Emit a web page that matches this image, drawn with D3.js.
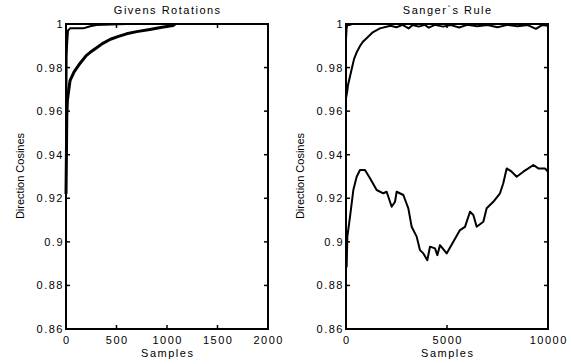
<!DOCTYPE html>
<html>
<head>
<meta charset="utf-8">
<script src="https://cdn.jsdelivr.net/npm/d3@7"></script>
<style>
  body { margin: 0; background: #fff; }
  svg text { font-family: "Liberation Sans", Arial, sans-serif; fill: #000; }
</style>
</head>
<body>
<svg id="chart" width="571" height="364"></svg>
<script>
var width = 571
var height = 364

// y axis is shared by both panels
var yTicks = [0.86, 0.88, 0.9, 0.92, 0.94, 0.96, 0.98, 1]

// Givens Rotations panel
var givensXTicks = [0, 500, 1000, 1500, 2000]
var givensFast = [
  [0, 0.922], [6, 0.985], [10, 0.99], [20, 0.997], [40, 0.998], [100, 0.998],
  [170, 0.998], [240, 0.999], [300, 0.9995], [450, 0.9998], [600, 1], [1000, 1]
]
var givensSlow = [
  [0, 0.922], [8, 0.958], [14, 0.965], [25, 0.969], [40, 0.974], [80, 0.978],
  [140, 0.982], [200, 0.9855], [240, 0.987], [300, 0.989], [360, 0.991],
  [440, 0.993], [520, 0.9943], [600, 0.9955], [700, 0.9965], [830, 0.9975],
  [950, 0.9985], [1060, 0.9993], [1080, 1]
]

// Sanger's Rule panel
var sangerXTicks = [0, 5000, 10000]
var sangerTop = [
  [0, 0.993], [30, 0.998], [80, 1], [150, 0.9995], [300, 1]
]
var sangerFirst = [
  [0, 0.966], [60, 0.969], [100, 0.972], [200, 0.976], [300, 0.98], [400, 0.984],
  [530, 0.987], [700, 0.99], [850, 0.992], [1020, 0.9935], [1300, 0.996],
  [1680, 0.998], [2200, 0.9992], [2500, 0.9985], [2800, 0.9996], [3100, 0.998],
  [3300, 0.9995], [3600, 0.9988], [3900, 0.9996], [4100, 0.9983], [4400, 0.9996],
  [4800, 0.9988], [5200, 0.9995], [5600, 0.9984], [6000, 0.9996], [6500, 0.999],
  [7000, 0.9995], [7500, 0.9985], [8000, 0.9996], [8500, 0.999], [9000, 0.9995],
  [9400, 0.9978], [9700, 0.9995], [10000, 0.9992]
]
var sangerSecond = [
  [0, 0.8886], [33, 0.8886], [66, 0.9024], [198, 0.9115], [363, 0.9238],
  [528, 0.9299], [693, 0.933], [940, 0.933], [1188, 0.9292], [1518, 0.9238],
  [1848, 0.9223], [2013, 0.923], [2261, 0.9161], [2426, 0.9184], [2508, 0.923],
  [2838, 0.9215], [3086, 0.9154], [3251, 0.9069], [3498, 0.9024], [3663, 0.8962],
  [3828, 0.8947], [4026, 0.8916], [4158, 0.8978], [4406, 0.897], [4521, 0.8939],
  [4653, 0.8985], [4983, 0.8947], [5313, 0.9001], [5643, 0.9054], [5891, 0.9069],
  [6139, 0.9138], [6304, 0.9123], [6469, 0.9069], [6799, 0.9092], [6964, 0.9154],
  [7292, 0.9184], [7624, 0.9223], [7786, 0.9269], [7955, 0.9337], [8203, 0.9322],
  [8450, 0.9299], [8778, 0.9322], [9026, 0.9337], [9274, 0.9353], [9521, 0.9337],
  [9851, 0.9337], [10000, 0.9322]
]

var svg = d3.select("#chart")
var spacing = 1.5

function drawPanel(opts){
  var x = d3.scaleLinear().domain(opts.xDomain).range([opts.left, opts.right])
  var y = d3.scaleLinear().domain([0.86, 1]).range([329, 24])
  var g = svg.append("g")

  var line = d3.line()
      .x(function(d){ return x(d[0]) })
      .y(function(d){ return y(d[1]) })

  opts.series.forEach(function(s){
    g.append("path")
      .attr("d", line(s.data))
      .attr("fill", "none")
      .attr("stroke", "#000")
      .attr("stroke-width", s.w)
      .attr("stroke-linejoin", "round")
  })

  // box
  g.append("rect")
    .attr("x", opts.left).attr("y", 24)
    .attr("width", opts.right - opts.left).attr("height", 305)
    .attr("fill", "none").attr("stroke", "#000").attr("stroke-width", 2)

  // inward ticks on all four sides
  opts.xTicks.forEach(function(t){
    g.append("line").attr("x1", x(t)).attr("x2", x(t)).attr("y1", 329).attr("y2", 325)
      .attr("stroke", "#000").attr("stroke-width", 1.5)
    g.append("line").attr("x1", x(t)).attr("x2", x(t)).attr("y1", 24).attr("y2", 28)
      .attr("stroke", "#000").attr("stroke-width", 1.5)
    g.append("text")
      .attr("x", x(t) + spacing / 2).attr("y", 344)
      .attr("text-anchor", "middle")
      .attr("font-size", 11)
      .attr("letter-spacing", spacing)
      .text(t)
  })
  yTicks.forEach(function(t){
    g.append("line").attr("x1", opts.left).attr("x2", opts.left + 4).attr("y1", y(t)).attr("y2", y(t))
      .attr("stroke", "#000").attr("stroke-width", 1.5)
    g.append("line").attr("x1", opts.right).attr("x2", opts.right - 4).attr("y1", y(t)).attr("y2", y(t))
      .attr("stroke", "#000").attr("stroke-width", 1.5)
    g.append("text")
      .attr("x", opts.left - 3.5 + spacing).attr("y", y(t))
      .attr("dy", "0.36em")
      .attr("text-anchor", "end")
      .attr("font-size", 11)
      .attr("letter-spacing", spacing)
      .text(d3.format("")(t))
  })

  var cx = (opts.left + opts.right) / 2
  g.append("text")
    .attr("x", cx + spacing / 2).attr("y", 14)
    .attr("text-anchor", "middle")
    .attr("font-size", 11)
    .attr("letter-spacing", spacing)
    .text(opts.title)

  g.append("text")
    .attr("x", cx + spacing / 2).attr("y", 357)
    .attr("text-anchor", "middle")
    .attr("font-size", 11)
    .attr("letter-spacing", spacing)
    .text("Samples")

  g.append("text")
    .attr("transform", "translate(" + (opts.left - 42) + ",176) rotate(-90)")
    .attr("text-anchor", "middle")
    .attr("font-size", 11)
    .text("Direction Cosines")
}

drawPanel({
  title: "Givens Rotations",
  left: 66, right: 268,
  xDomain: [0, 2000],
  xTicks: givensXTicks,
  series: [{data: givensFast, w: 2}, {data: givensSlow, w: 3}]
})

drawPanel({
  title: "Sanger`s Rule",
  left: 346, right: 548,
  xDomain: [0, 10000],
  xTicks: sangerXTicks,
  series: [{data: sangerTop, w: 2}, {data: sangerFirst, w: 2}, {data: sangerSecond, w: 2}]
})
</script>
</body>
</html>
